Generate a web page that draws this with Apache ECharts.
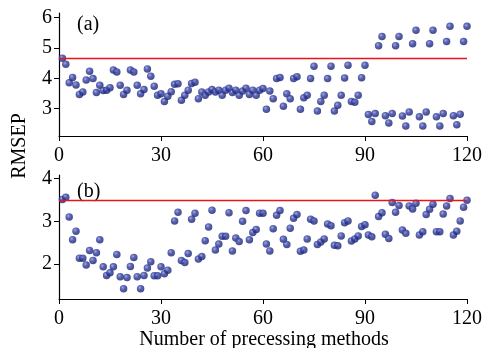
<!DOCTYPE html>
<html><head><meta charset="utf-8">
<script src="https://cdn.jsdelivr.net/npm/echarts@6/dist/echarts.min.js"></script>
<style>html,body{margin:0;padding:0;background:#fff}#c{width:485px;height:348px}</style>
</head><body><div id="c"></div>
<script>
// RMSEP values, methods 1..120
const rmsepA = [4.66,4.46,3.85,4.03,3.78,3.47,3.55,3.94,4.23,3.99,3.53,3.77,3.60,3.61,3.69,4.27,4.21,3.77,3.47,3.61,
4.27,4.21,3.77,3.49,3.63,4.31,4.07,3.74,3.44,3.49,3.24,3.41,3.56,3.80,3.82,3.28,3.44,3.61,3.83,3.87,
3.33,3.55,3.44,3.55,3.63,3.55,3.61,3.44,3.61,3.67,3.53,3.61,3.44,3.58,3.67,3.47,3.61,3.44,3.61,3.66,
2.98,3.58,3.33,3.99,4.03,3.08,3.49,3.33,3.99,4.05,2.98,3.36,3.44,3.99,4.40,2.92,3.24,3.44,3.99,4.40,
2.92,3.11,3.44,4.01,4.43,3.24,3.21,3.44,4.02,4.43,2.81,2.58,2.84,5.07,5.38,2.77,2.53,2.84,5.07,5.38,
2.76,2.43,2.89,5.14,5.58,2.73,2.43,2.89,5.14,5.58,2.73,2.43,2.84,5.21,5.71,2.77,2.47,2.82,5.21,5.71];
const rmsepB = [3.51,3.56,3.10,2.57,2.77,2.14,2.14,1.98,2.32,2.09,2.27,2.57,1.94,1.74,1.80,1.94,2.23,1.71,1.43,1.69,
1.95,2.16,1.71,1.43,1.74,1.91,2.06,1.73,1.73,1.94,1.78,1.86,2.27,3.01,3.21,2.09,2.04,2.25,3.05,3.19,
2.12,2.18,2.55,2.87,3.26,2.33,2.47,2.65,2.65,3.20,2.31,2.61,2.53,3.00,3.25,2.57,2.74,2.81,3.19,3.19,
2.47,2.31,2.83,3.14,3.25,2.58,2.46,2.84,3.07,3.16,2.30,2.33,2.59,3.05,3.01,2.46,2.52,2.59,2.94,2.90,
2.44,2.43,2.66,2.97,3.01,2.54,2.59,2.66,2.88,2.92,2.68,2.64,3.61,3.11,3.20,2.70,2.60,3.44,3.21,3.37,
2.80,2.72,3.36,3.29,3.42,2.68,2.76,3.16,3.28,3.40,2.76,2.76,3.17,3.36,3.53,2.68,2.77,3.01,3.33,3.49];
const thresholdA = 4.66;
const thresholdB = 3.50;
const xTicks = [0, 30, 60, 90, 120];
const yTicksA = [3, 4, 5, 6];
const yTicksB = [2, 3, 4];

const FONT = '"Liberation Serif","Times New Roman",serif';
const pts = arr => arr.map((v, i) => [i + 1, v]);
const ball = {type:'radial', x:0.38, y:0.35, r:0.7, colorStops:[
  {offset:0, color:'#8c95dc'},{offset:0.4, color:'#2f3c9f'},{offset:1, color:'#151d68'}]};

function xAxis(idx){
  return {gridIndex:idx, type:'value', min:0, max:120, interval:30,
    axisLine:{lineStyle:{color:'#000', width:1.2}},
    axisTick:{show:true, length:5, customValues:xTicks, lineStyle:{color:'#000'}},
    axisLabel:{color:'#000', fontFamily:FONT, fontSize:20, margin:10, customValues:xTicks},
    splitLine:{show:false}};
}
function yAxis(idx, min, max, ticks){
  return {gridIndex:idx, type:'value', min:min, max:max,
    axisLine:{show:true, lineStyle:{color:'#000', width:1.2}},
    axisTick:{show:true, length:5, customValues:ticks, lineStyle:{color:'#000'}},
    axisLabel:{color:'#000', fontFamily:FONT, fontSize:20, margin:7, customValues:ticks},
    splitLine:{show:false}};
}
function series(idx, data, thr){
  return {type:'scatter', xAxisIndex:idx, yAxisIndex:idx, data:pts(data),
    symbolSize:7.5, itemStyle:{color:ball}, silent:true,
    markLine:{silent:true, symbol:'none', label:{show:false},
      lineStyle:{color:'#e8141c', width:1.4, type:'solid'},
      data:[{yAxis:thr}]}};
}

const chart = echarts.init(document.getElementById('c'), null, {renderer:'canvas'});
chart.setOption({
  animation:false,
  backgroundColor:'#fff',
  grid:[{left:59, right:16, top:13, height:123},
        {left:59, right:16, top:175, height:124}],
  xAxis:[xAxis(0), xAxis(1)],
  yAxis:[yAxis(0, 2.1, 6.15, yTicksA), yAxis(1, 1.19, 4.08, yTicksB)],
  series:[series(0, rmsepA, thresholdA), series(1, rmsepB, thresholdB)],
  graphic:[
    {type:'text', left:77, top:15, style:{text:'(a)', fontFamily:FONT, fontSize:20, fill:'#000'}},
    {type:'text', left:77, top:182, style:{text:'(b)', fontFamily:FONT, fontSize:20, fill:'#000'}},
    {type:'text', x:20, y:146, rotation:Math.PI/2,
      style:{text:'RMSEP', fontFamily:FONT, fontSize:20, fill:'#000', align:'center', verticalAlign:'middle'}},
    {type:'text', x:264, y:340,
      style:{text:'Number of precessing methods', fontFamily:FONT, fontSize:20, fill:'#000', align:'center', verticalAlign:'middle'}}
  ]
});
</script></body></html>
